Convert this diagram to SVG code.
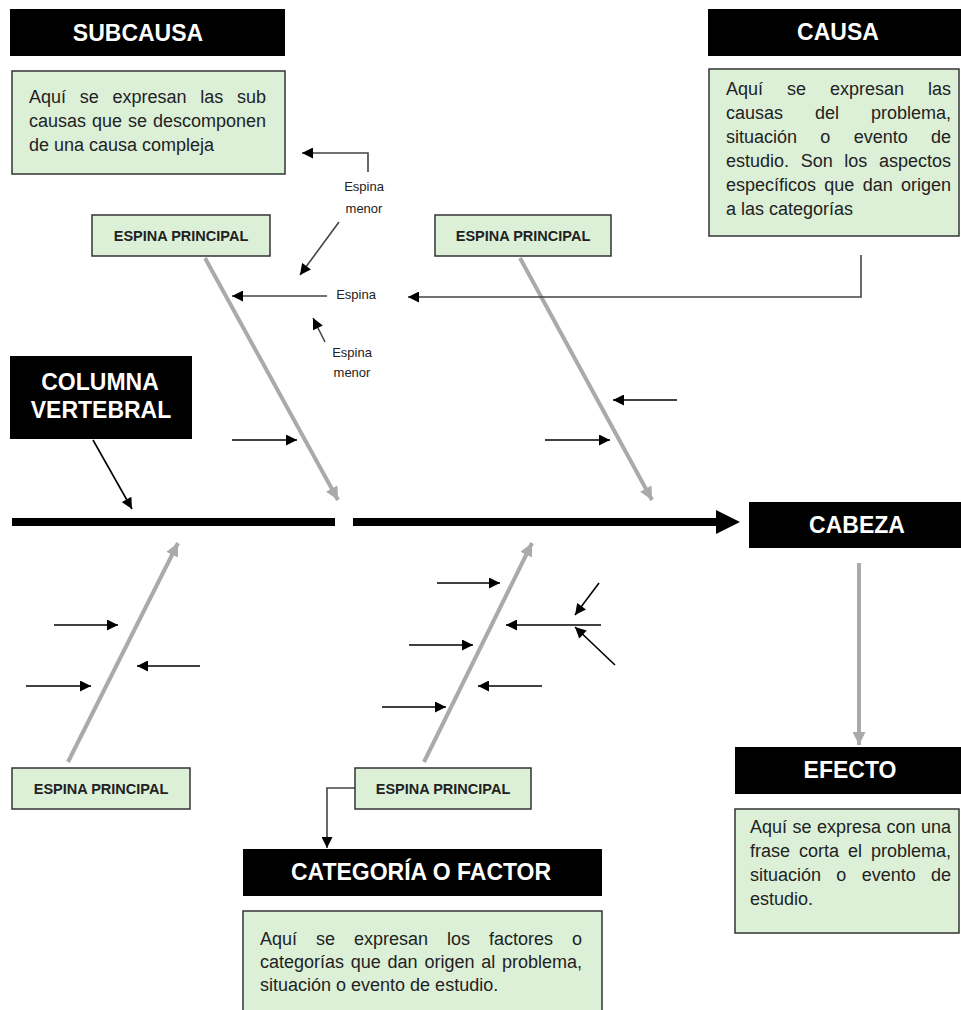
<svg xmlns="http://www.w3.org/2000/svg" width="961" height="1010" viewBox="0 0 961 1010">
  <style>
    .hdr { fill: #000; }
    .hdr-t { fill: #fff; font-family: "Liberation Sans", Arial, sans-serif; font-weight: bold; font-size: 23px; text-anchor: middle; }
    .note { fill: #dcf0d8; stroke: #333; stroke-width: 1.5; }
    .note-t { fill: #222; font-family: "Liberation Sans", Arial, sans-serif; font-size: 18px; }
    .lbl { fill: #dcf0d8; stroke: #333; stroke-width: 1.5; }
    .lbl-t { fill: #222; font-family: "Liberation Sans", Arial, sans-serif; font-weight: bold; font-size: 14.5px; text-anchor: middle; }
    .small-t { fill: #222; font-family: "Liberation Sans", Arial, sans-serif; font-size: 13px; text-anchor: middle; }
    .bone { stroke: #aaa; stroke-width: 4; fill: none; }
    .rib { stroke: #000; stroke-width: 1.6; fill: none; }
    .lead { stroke: #444; stroke-width: 1.6; fill: none; }
    .spine { stroke: #000; stroke-width: 8; fill: none; }
  </style>
  <defs>
    <marker id="ah" viewBox="0 0 10 10" refX="10" refY="5" markerWidth="12" markerHeight="11" markerUnits="userSpaceOnUse" orient="auto">
      <path d="M0,0 L10,5 L0,10 z" fill="#000"/>
    </marker>
    <marker id="ahg" viewBox="0 0 10 10" refX="10" refY="5" markerWidth="14" markerHeight="13" markerUnits="userSpaceOnUse" orient="auto">
      <path d="M0,0 L10,5 L0,10 z" fill="#aaa"/>
    </marker>
  </defs>

  <rect width="961" height="1010" fill="#fff"/>

  <!-- connectors: bones, ribs and leader lines -->
  <g id="connectors">
    <!-- main bones -->
    <line class="bone" x1="205" y1="258" x2="338" y2="500" marker-end="url(#ahg)"/>
    <line class="bone" x1="520" y1="258" x2="652" y2="500" marker-end="url(#ahg)"/>
    <line class="bone" x1="68" y1="762" x2="178" y2="543" marker-end="url(#ahg)"/>
    <line class="bone" x1="424" y1="762" x2="532" y2="543" marker-end="url(#ahg)"/>
    <line class="bone" x1="859" y1="563" x2="859" y2="745" marker-end="url(#ahg)"/>

    <!-- backbone -->
    <line class="spine" x1="12" y1="522" x2="335" y2="522"/>
    <line class="spine" x1="353" y1="522" x2="718" y2="522"/>
    <polygon points="716,510 740,522 716,534" fill="#000"/>

    <!-- pointer to the backbone -->
    <line class="rib" stroke-width="2" x1="93" y1="440" x2="132" y2="509" marker-end="url(#ah)"/>

    <!-- leaders around the upper-left bone -->
    <polyline class="lead" points="368,172 368,153 302,153" marker-end="url(#ah)"/>
    <line class="lead" x1="339" y1="222" x2="300" y2="275" marker-end="url(#ah)"/>
    <line class="lead" x1="327" y1="296" x2="232" y2="296" marker-end="url(#ah)"/>
    <polyline class="lead" stroke="#555" points="861,255 861,297 408,297" marker-end="url(#ah)"/>
    <line class="lead" x1="325" y1="342" x2="313" y2="318" marker-end="url(#ah)"/>

    <!-- ribs -->
    <line class="rib" x1="232" y1="440" x2="297" y2="440" marker-end="url(#ah)"/>
    <line class="rib" x1="545" y1="440" x2="610" y2="440" marker-end="url(#ah)"/>
    <line class="rib" x1="677" y1="400" x2="613" y2="400" marker-end="url(#ah)"/>
    <line class="rib" x1="54" y1="625" x2="118" y2="625" marker-end="url(#ah)"/>
    <line class="rib" x1="200" y1="666" x2="137" y2="666" marker-end="url(#ah)"/>
    <line class="rib" x1="26" y1="686" x2="91" y2="686" marker-end="url(#ah)"/>
    <line class="rib" x1="437" y1="583" x2="500" y2="583" marker-end="url(#ah)"/>
    <line class="rib" x1="601" y1="625" x2="506" y2="625" marker-end="url(#ah)"/>
    <line class="rib" x1="409" y1="645" x2="473" y2="645" marker-end="url(#ah)"/>
    <line class="rib" x1="542" y1="686" x2="478" y2="686" marker-end="url(#ah)"/>
    <line class="rib" x1="382" y1="707" x2="446" y2="707" marker-end="url(#ah)"/>
    <line class="rib" x1="599" y1="583" x2="575" y2="615" marker-end="url(#ah)"/>
    <line class="rib" x1="615" y1="665" x2="575" y2="627" marker-end="url(#ah)"/>

    <!-- lower bone label to category header -->
    <polyline class="lead" points="355,788 327,788 327,848" marker-end="url(#ah)"/>
  </g>

  <!-- small bone labels -->
  <g id="lbl-espina-menor-1">
    <text class="small-t" x="364" y="191">Espina</text>
    <text class="small-t" x="364" y="213">menor</text>
  </g>
  <g id="lbl-espina">
    <text class="small-t" x="356" y="299">Espina</text>
  </g>
  <g id="lbl-espina-menor-2">
    <text class="small-t" x="352" y="357">Espina</text>
    <text class="small-t" x="352" y="377">menor</text>
  </g>

  <!-- SUBCAUSA -->
  <g id="subcausa">
    <rect class="hdr" x="10" y="9" width="275" height="47"/>
    <text class="hdr-t" x="138" y="41">SUBCAUSA</text>
  </g>
  <g id="subcausa-note">
    <rect class="note" x="12" y="71" width="273" height="103"/>
    <text class="note-t" y="103"><tspan x="29">Aquí</tspan><tspan x="79.75">se</tspan><tspan x="112.5">expresan</tspan><tspan x="200.25">las</tspan><tspan x="266" text-anchor="end">sub</tspan></text>
    <text class="note-t" y="127"><tspan x="29">causas</tspan><tspan x="92">que</tspan><tspan x="128">se</tspan><tspan x="266" text-anchor="end">descomponen</tspan></text>
    <text class="note-t" x="29" y="151">de una causa compleja</text>
  </g>

  <!-- CAUSA -->
  <g id="causa">
    <rect class="hdr" x="708" y="9" width="253" height="47"/>
    <text class="hdr-t" x="838" y="40">CAUSA</text>
  </g>
  <g id="causa-note">
    <rect class="note" x="709" y="69" width="250" height="167"/>
    <text class="note-t" y="95"><tspan x="726">Aquí</tspan><tspan x="787">se</tspan><tspan x="830">expresan</tspan><tspan x="951" text-anchor="end">las</tspan></text>
    <text class="note-t" y="119"><tspan x="726">causas</tspan><tspan x="815">del</tspan><tspan x="951" text-anchor="end">problema,</tspan></text>
    <text class="note-t" y="143"><tspan x="726">situación</tspan><tspan x="820.3">o</tspan><tspan x="853.7">evento</tspan><tspan x="951" text-anchor="end">de</tspan></text>
    <text class="note-t" y="167"><tspan x="726">estudio.</tspan><tspan x="800.7">Son</tspan><tspan x="844.3">los</tspan><tspan x="951" text-anchor="end">aspectos</tspan></text>
    <text class="note-t" y="191"><tspan x="726">específicos</tspan><tspan x="824.3">que</tspan><tspan x="862.7">dan</tspan><tspan x="951" text-anchor="end">origen</tspan></text>
    <text class="note-t" x="726" y="215">a las categorías</text>
  </g>

  <!-- ESPINA PRINCIPAL labels -->
  <g id="espina-principal-1">
    <rect class="lbl" x="92" y="215" width="178" height="41"/>
    <text class="lbl-t" x="181" y="241">ESPINA PRINCIPAL</text>
  </g>
  <g id="espina-principal-2">
    <rect class="lbl" x="435" y="215" width="176" height="41"/>
    <text class="lbl-t" x="523" y="241">ESPINA PRINCIPAL</text>
  </g>
  <g id="espina-principal-3">
    <rect class="lbl" x="12" y="768" width="178" height="41"/>
    <text class="lbl-t" x="101" y="794">ESPINA PRINCIPAL</text>
  </g>
  <g id="espina-principal-4">
    <rect class="lbl" x="355" y="768" width="176" height="41"/>
    <text class="lbl-t" x="443" y="794">ESPINA PRINCIPAL</text>
  </g>

  <!-- COLUMNA VERTEBRAL -->
  <g id="columna">
    <rect class="hdr" x="10" y="356" width="182" height="83"/>
    <text class="hdr-t" font-size="22" x="100" y="390">COLUMNA</text>
    <text class="hdr-t" font-size="22" x="101" y="418">VERTEBRAL</text>
  </g>

  <!-- CABEZA -->
  <g id="cabeza">
    <rect class="hdr" x="749" y="502" width="212" height="46"/>
    <text class="hdr-t" font-size="26" x="857" y="533">CABEZA</text>
  </g>

  <!-- EFECTO -->
  <g id="efecto">
    <rect class="hdr" x="735" y="747" width="226" height="47"/>
    <text class="hdr-t" x="850" y="778">EFECTO</text>
  </g>
  <g id="efecto-note">
    <rect class="note" x="735" y="809" width="224" height="124"/>
    <text class="note-t" y="833"><tspan x="750">Aquí</tspan><tspan x="792.5">se</tspan><tspan x="817">expresa</tspan><tspan x="886.5">con</tspan><tspan x="951" text-anchor="end">una</tspan></text>
    <text class="note-t" y="857"><tspan x="750">frase</tspan><tspan x="799">corta</tspan><tspan x="848">el</tspan><tspan x="951" text-anchor="end">problema,</tspan></text>
    <text class="note-t" y="881"><tspan x="750">situación</tspan><tspan x="836.3">o</tspan><tspan x="861.7">evento</tspan><tspan x="951" text-anchor="end">de</tspan></text>
    <text class="note-t" x="750" y="905">estudio.</text>
  </g>

  <!-- CATEGORÍA O FACTOR -->
  <g id="categoria">
    <rect class="hdr" x="243" y="849" width="359" height="47"/>
    <text class="hdr-t" x="421" y="880">CATEGORÍA O FACTOR</text>
  </g>
  <g id="categoria-note">
    <rect class="note" x="243" y="911" width="359" height="110"/>
    <text class="note-t" y="945"><tspan x="260">Aquí</tspan><tspan x="316">se</tspan><tspan x="354">expresan</tspan><tspan x="447">los</tspan><tspan x="489">factores</tspan><tspan x="582" text-anchor="end">o</tspan></text>
    <text class="note-t" y="968"><tspan x="260">categorías</tspan><tspan x="350.8">que</tspan><tspan x="387.6">dan</tspan><tspan x="424.4">origen</tspan><tspan x="481.2">al</tspan><tspan x="582" text-anchor="end">problema,</tspan></text>
    <text class="note-t" x="260" y="991">situación o evento de estudio.</text>
  </g>
</svg>
